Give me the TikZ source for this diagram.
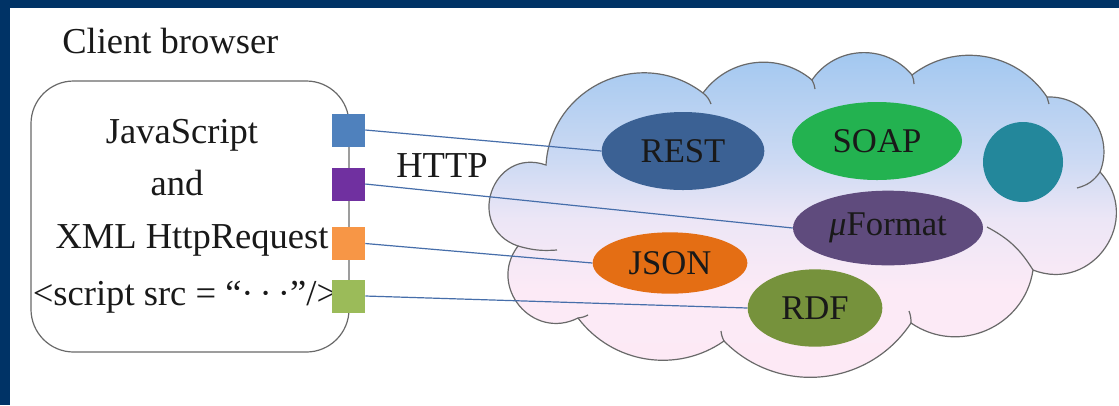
\documentclass[tikz,border=0pt]{standalone}
\usepackage{fontspec}
\setmainfont{Liberation Serif}
\usetikzlibrary{shapes.geometric,backgrounds}

\definecolor{frameblue}{RGB}{0,51,102}
\definecolor{edgegray}{RGB}{105,105,105}
\definecolor{portblue}{RGB}{79,129,189}
\definecolor{portpurple}{RGB}{112,48,160}
\definecolor{portorange}{RGB}{247,150,70}
\definecolor{portgreen}{RGB}{155,187,89}
\definecolor{linkblue}{RGB}{70,110,170}
\definecolor{cloudtop}{RGB}{158,198,240}
\definecolor{cloudhigh}{RGB}{205,218,243}
\definecolor{cloudmid}{RGB}{236,230,246}
\definecolor{cloudlow}{RGB}{252,234,246}
\definecolor{cloudbot}{RGB}{253,233,245}
\definecolor{restblue}{RGB}{59,97,148}
\definecolor{soapgreen}{RGB}{35,178,80}
\definecolor{tealdot}{RGB}{35,135,155}
\definecolor{uformatpurple}{RGB}{95,75,125}
\definecolor{jsonorange}{RGB}{228,110,20}
\definecolor{rdfolive}{RGB}{118,146,60}

\pgfdeclareverticalshading{cloudfill}{100bp}{color(0bp)=(cloudbot); color(25bp)=(cloudbot);
  color(40bp)=(cloudlow); color(50bp)=(cloudmid); color(58bp)=(cloudhigh);
  color(75bp)=(cloudtop); color(100bp)=(cloudtop)}

\tikzset{
  lbl/.style={font=\fontsize{27.4}{33}\selectfont, text=black!90, inner sep=0},
  svc/.style={ellipse, inner sep=0, font=\fontsize{26}{31}\selectfont, text=black!90},
  port/.style={minimum size=24.75pt, inner sep=0},
  link/.style={draw=linkblue, line width=0.9pt},
  cloudline/.style={draw=edgegray, line width=0.9pt},
}

\begin{document}
\begin{tikzpicture}[x=0.75pt, y=-0.75pt]
\useasboundingbox (0,0) rectangle (1119,405);
\begin{pgfonlayer}{background}
\fill[white] (0,0) rectangle (1119,405);
% cloud
\path[cloudline, shading=cloudfill]
  (518,246) to[bend left=90, looseness=1.7] (546,165)
  to[bend left=62, looseness=1.16] (703,93)
  to[bend left=47, looseness=1.02] (812,80)
  to[bend left=53, looseness=1.06] (912,75)
  to[bend left=47, looseness=1.02] (1047,97)
  to[bend left=57, looseness=1.1] (1100,172)
  to[bend left=77, looseness=1.39] (1033,270)
  to[bend left=58, looseness=1.11] (911,323)
  to[bend left=51, looseness=1.05] (724,341)
  to[bend left=44, looseness=0.99] (578,318)
  to[bend left=77, looseness=1.39] (518,246) -- cycle;
\draw[cloudline] (703,93) to[bend left=15] (711,104);
\draw[cloudline] (812,80) to[bend left=10] (815,89);
\draw[cloudline] (912,75) to[bend left=10] (914,84);
\draw[cloudline] (1047,97) to[bend left=10] (1049,104);
\draw[cloudline] (1100,172) to[bend left=20] (1077,188);
\draw[cloudline] (987,227) to[bend left=15] (1033,270);
\draw[cloudline] (909,311) to[bend left=10] (911,323);
\draw[cloudline] (724,341) to[bend left=10] (721,331);
\draw[cloudline] (588,315) to[bend left=10] (578,318);
\draw[cloudline] (557,250) to[bend left=10] (518,246);
\end{pgfonlayer}

\fill[frameblue] (0,0) rectangle (1119,8);
\fill[frameblue] (0,0) rectangle (10,405);

% client side
\node[lbl, anchor=base west] (client) at (62,53) {Client browser};
\node[draw=edgegray, line width=0.9pt, rounded corners=32pt,
      minimum width=238.5pt, minimum height=203.25pt] (browser) at (190,216.5) {};
\node[lbl, anchor=base] (js) at (182,143) {JavaScript};
\node[lbl, anchor=base] (and) at (177,195) {and};
\node[lbl, anchor=base] (xhr) at (192,248) {XML HttpRequest};
\node[lbl, anchor=base] (tag) at (185,305) {<script src = “·\,·\,·”/>};

\node[port, fill=portblue] (pblue) at (348.5,130) {};
\node[port, fill=portpurple] (ppurple) at (348.5,184) {};
\node[port, fill=portorange] (porange) at (348.5,243.5) {};
\node[port, fill=portgreen] (pgreen) at (348.5,296) {};

\node[lbl, anchor=base] (http) at (442,177) {HTTP};

% services
\node[svc, fill=restblue, minimum width=122pt, minimum height=58.5pt] (rest) at (683,151) {REST};
\node[svc, fill=soapgreen, minimum width=127.5pt, minimum height=58.5pt] (soap) at (877,141) {SOAP};
\node[circle, fill=tealdot, minimum size=60pt, inner sep=0] (dot) at (1023,162) {};
\node[svc, fill=uformatpurple, minimum width=142.5pt, minimum height=56pt] (uformat) at (888,228) {{\itshape μ}Format};
\node[svc, fill=jsonorange, minimum width=116pt, minimum height=46pt] (json) at (670,263) {JSON};
\node[svc, fill=rdfolive, minimum width=101pt, minimum height=58pt] (rdf) at (815,308) {RDF};

\begin{pgfonlayer}{background}
\draw[link] (pblue.east) -- (rest.west);
\draw[link] (ppurple.east) -- (uformat.west);
\draw[link] (porange.east) -- (json.west);
\draw[link] (pgreen.east) -- (rdf.west);
\end{pgfonlayer}
\end{tikzpicture}
\end{document}
